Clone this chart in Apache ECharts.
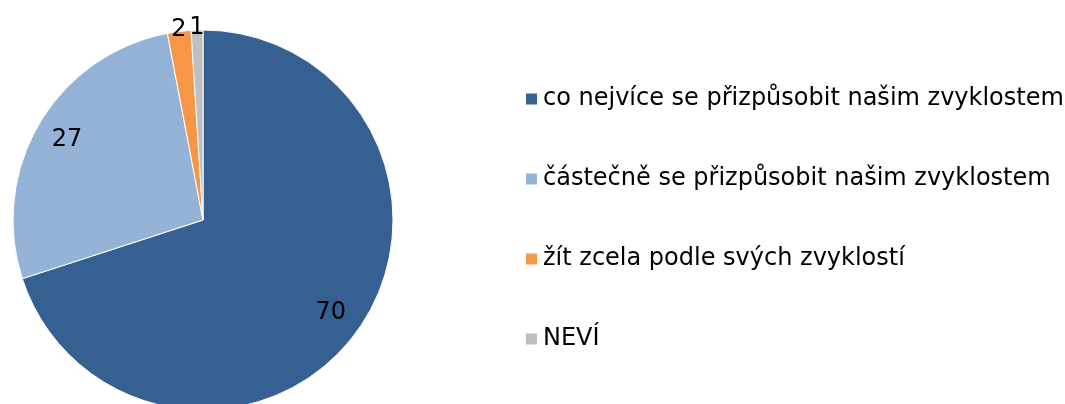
<!DOCTYPE html>
<html>
<head>
<meta charset="utf-8">
<script src="https://cdn.jsdelivr.net/npm/echarts@6/dist/echarts.min.js"></script>
<style>
  html, body { margin: 0; padding: 0; background: #fff; }
  #chart { width: 1065px; height: 404px; }
</style>
</head>
<body>
<div id="chart"></div>
<script>
const categories = [
  'co nejvíce se přizpůsobit našim zvyklostem',
  'částečně se přizpůsobit našim zvyklostem',
  'žít zcela podle svých zvyklostí',
  'NEVÍ'
]
const values = [70, 27, 2, 1]
const colors = ['#376092', '#95b3d7', '#f79646', '#bfbfbf']

const font = 'DejaVu Sans, Verdana, sans-serif'
const center = [203, 220]

const chart = echarts.init(document.getElementById('chart'))

const pieData = categories.map((name, i) => ({
  name: name,
  value: values[i],
  itemStyle: { color: colors[i] }
}))

// transparent copies only used to place the labels
const labelData = (big) => categories.map((name, i) => ({
  name: name,
  value: values[i],
  label: { show: big ? values[i] >= 5 : values[i] < 5 }
}))

const labelSeries = (radius, big) => ({
  type: 'pie',
  center: center,
  radius: [0, radius],
  startAngle: 90,
  clockwise: true,
  silent: true,
  animation: false,
  itemStyle: { color: 'rgba(0,0,0,0)' },
  label: {
    position: 'inside',
    formatter: '{c}',
    color: '#000',
    fontFamily: font,
    fontSize: 24
  },
  labelLine: { show: false },
  data: labelData(big)
})

const option = {
  animation: false,
  legend: {
    orient: 'vertical',
    left: 519,
    top: 82,
    icon: 'rect',
    itemWidth: 13,
    itemHeight: 13,
    itemGap: 56,
    selectedMode: false,
    textStyle: {
      fontFamily: font,
      fontSize: 24,
      color: '#000'
    },
    data: categories
  },
  series: [
    {
      type: 'pie',
      center: center,
      radius: [0, 190],
      startAngle: 90,
      clockwise: true,
      animation: false,
      itemStyle: { borderColor: '#fff', borderWidth: 1 },
      label: { show: false },
      labelLine: { show: false },
      data: pieData
    },
    labelSeries(310, true),
    labelSeries(378, false)
  ]
}

chart.setOption(option)
</script>
</body>
</html>
